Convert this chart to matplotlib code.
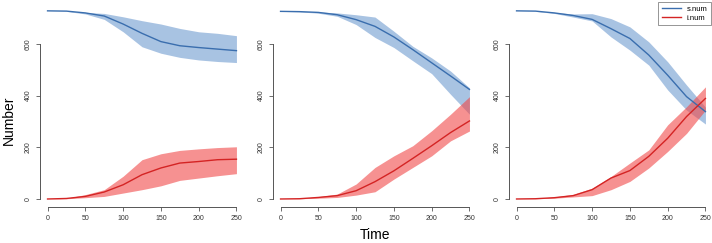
import numpy as np
import matplotlib
matplotlib.use("Agg")
import matplotlib.pyplot as plt

plt.rcParams['font.family'] = ['Liberation Sans', 'DejaVu Sans']

time_pts = [0, 25, 50, 75, 100, 125, 150, 175, 200, 225, 250]

# panel 1
s1_mean = [728, 727, 720, 708, 677, 641, 609, 593, 586, 580, 574]
s1_hi   = [728, 727, 722, 718, 705, 690, 677, 660, 647, 641, 632]
s1_lo   = [728, 726, 716, 695, 647, 589, 564, 548, 538, 532, 528]
i1_mean = [0, 2, 10, 27, 55, 94, 120, 139, 145, 152, 154]
i1_hi   = [0, 3, 17, 36, 88, 152, 175, 188, 194, 199, 202]
i1_lo   = [0, 1, 5, 10, 23, 36, 51, 72, 81, 90, 98]

# panel 2
s2_mean = [726, 725, 722, 713, 694, 668, 627, 578, 527, 476, 424]
s2_hi   = [726, 726, 724, 720, 713, 704, 649, 591, 546, 495, 430]
s2_lo   = [726, 724, 719, 707, 675, 625, 586, 535, 485, 405, 328]
i2_mean = [0, 1, 6, 13, 32, 67, 109, 157, 206, 257, 302]
i2_hi   = [0, 2, 9, 19, 58, 122, 167, 206, 264, 328, 396]
i2_lo   = [0, 1, 3, 6, 15, 28, 77, 122, 167, 225, 263]

# panel 3
s3_mean = [728, 727, 720, 710, 695, 659, 621, 557, 479, 396, 338]
s3_hi   = [728, 727, 722, 716, 717, 698, 666, 608, 531, 441, 355]
s3_lo   = [728, 726, 718, 704, 689, 627, 576, 518, 422, 344, 290]
i3_mean = [0, 1, 5, 13, 36, 81, 110, 165, 235, 319, 389]
i3_hi   = [0, 2, 8, 18, 42, 87, 139, 190, 287, 357, 434]
i3_lo   = [0, 1, 3, 8, 13, 36, 68, 120, 184, 254, 344]

panels = [
    (s1_mean, s1_lo, s1_hi, i1_mean, i1_lo, i1_hi),
    (s2_mean, s2_lo, s2_hi, i2_mean, i2_lo, i2_hi),
    (s3_mean, s3_lo, s3_hi, i3_mean, i3_lo, i3_hi),
]

blue_line = '#3a6eae'
blue_fill = '#6f9bd0'
red_line = '#d42424'
red_fill = '#f04848'
axis_col = '#555555'

fig = plt.figure(figsize=(7.12, 2.43), dpi=100)
lefts = [40 / 712, 273 / 712, 509 / 712]
w = 204 / 712

for k, (sm, sl, sh, im, il, ih) in enumerate(panels):
    ax = fig.add_axes([lefts[k], 36 / 243, w, 207 / 243])
    ax.fill_between(time_pts, sl, sh, color=blue_fill, alpha=0.6, linewidth=0)
    ax.fill_between(time_pts, il, ih, color=red_fill, alpha=0.6, linewidth=0)
    ax.plot(time_pts, sm, color=blue_line, linewidth=1.0, label='s.num')
    ax.plot(time_pts, im, color=red_line, linewidth=1.0, label='i.num')

    ax.set_xlim(-10, 260)
    ax.set_ylim(-31, 770)
    ax.set_xticks([0, 50, 100, 150, 200, 250])
    ax.set_yticks([0, 200, 400, 600])
    for side in ['top', 'right']:
        ax.spines[side].set_visible(False)
    ax.spines['left'].set_bounds(0, 600)
    ax.spines['bottom'].set_bounds(0, 250)
    for side in ['left', 'bottom']:
        ax.spines[side].set_color(axis_col)
        ax.spines[side].set_linewidth(0.7)
    ax.tick_params(axis='both', length=3, width=0.6, color=axis_col,
                   labelsize=5, labelcolor='#333333', pad=3)
    for lab in ax.get_yticklabels():
        lab.set_rotation(90)
        lab.set_va('center')
    ax.patch.set_alpha(0)

    if k == 0:
        ax.set_ylabel('Number', fontsize=10, va='center')
        ax.yaxis.set_label_coords(-0.155, 0.42)
    if k == 1:
        ax.set_xlabel('Time', fontsize=10, va='center')
        ax.xaxis.set_label_coords(0.5, -0.135)
    if k == 2:
        leg = ax.legend(loc='upper right', fontsize=5.5, frameon=True,
                        fancybox=False, edgecolor='#666666', handlelength=2.5,
                        borderaxespad=0.2, borderpad=0.5, labelspacing=0.2)
        leg.get_frame().set_linewidth(0.6)

fig.savefig('out.png', dpi=100)
